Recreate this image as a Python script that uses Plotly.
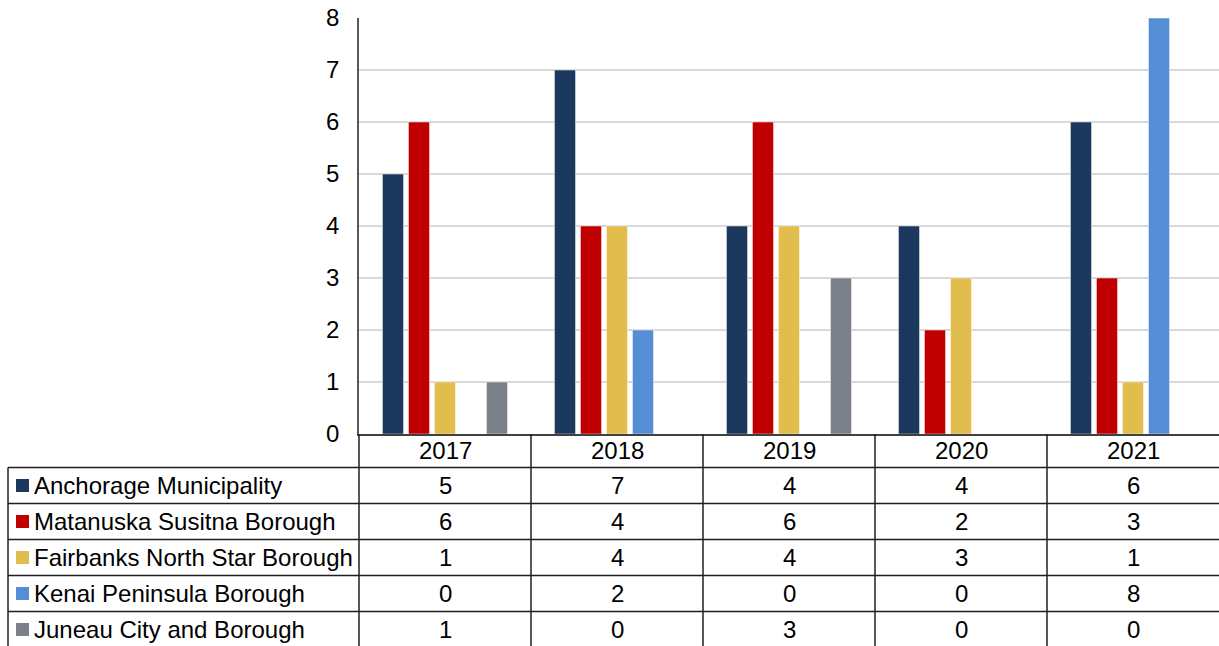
import plotly.graph_objects as go

# --- data -------------------------------------------------------------
years = ["2017", "2018", "2019", "2020", "2021"]
series_names = [
    "Anchorage Municipality",
    "Matanuska Susitna Borough",
    "Fairbanks North Star Borough",
    "Kenai Peninsula Borough",
    "Juneau City and Borough",
]
anchorage = [5, 7, 4, 4, 6]
matanuska = [6, 4, 6, 2, 3]
fairbanks = [1, 4, 4, 3, 1]
kenai = [0, 2, 0, 0, 8]
juneau = [1, 0, 3, 0, 0]
y_ticks = [0, 1, 2, 3, 4, 5, 6, 7, 8]

series_values = [anchorage, matanuska, fairbanks, kenai, juneau]
colors = ["#1B385E", "#C00000", "#E0BD4C", "#558ED5", "#7B8189"]

# --- geometry helpers (pixel -> paper) ---------------------------------
W, H = 1219, 646
FONT = "Liberation Sans, Arial, sans-serif"
FS = 24


def px_x(p):
    return p / W


def px_y(p):
    return (H - p) / H


plot_left, plot_top, plot_bottom = 359, 18, 434
header_bottom = 467.5
row_h = 36
row_lines = [header_bottom + i * row_h for i in range(len(series_names))]
table_left = 8

fig = go.Figure()
for name, vals, col in zip(series_names, series_values, colors):
    fig.add_trace(go.Bar(
        x=years, y=vals, name=name,
        marker=dict(color=col, line=dict(width=0.8, color="rgba(255,255,255,0.6)")),
        showlegend=False,
    ))

shapes = []
line_dark = dict(color="#1f1f1f", width=1.5)

# horizontal table rules
for yl in row_lines:
    shapes.append(dict(type="line", xref="paper", yref="paper",
                       x0=px_x(table_left), x1=1, y0=px_y(yl), y1=px_y(yl), line=line_dark))
# left border of the series-name column
shapes.append(dict(type="line", xref="paper", yref="paper",
                   x0=px_x(table_left), x1=px_x(table_left),
                   y0=px_y(header_bottom), y1=0, line=line_dark))
# continuation of the value axis down through the table
shapes.append(dict(type="line", xref="paper", yref="paper",
                   x0=px_x(plot_left), x1=px_x(plot_left),
                   y0=px_y(plot_bottom), y1=0, line=line_dark))
# separators between year columns
for i in range(len(years) - 1):
    shapes.append(dict(type="line", xref="x", yref="paper",
                       x0=i + 0.5, x1=i + 0.5, y0=px_y(plot_bottom), y1=0, line=line_dark))

annotations = []
# year header row
for i, yr in enumerate(years):
    annotations.append(dict(x=i, xref="x", y=px_y((plot_bottom + header_bottom) / 2), yref="paper",
                            text=yr, showarrow=False, xanchor="center", yanchor="middle",
                            font=dict(family=FONT, size=FS, color="#000")))
# series rows: legend key, name and values
for r, (name, vals, col) in enumerate(zip(series_names, series_values, colors)):
    cy = header_bottom + r * row_h + row_h / 2
    shapes.append(dict(type="rect", xref="paper", yref="paper",
                       x0=px_x(16), x1=px_x(29), y0=px_y(cy - 6.5), y1=px_y(cy + 6.5),
                       fillcolor=col, line=dict(width=0)))
    annotations.append(dict(x=px_x(32), xref="paper", y=px_y(cy), yref="paper",
                            text=name, showarrow=False, xanchor="left", yanchor="middle",
                            font=dict(family=FONT, size=FS, color="#000")))
    for i, v in enumerate(vals):
        annotations.append(dict(x=i, xref="x", y=px_y(cy), yref="paper",
                                text=str(v), showarrow=False, xanchor="center", yanchor="middle",
                                font=dict(family=FONT, size=FS, color="#000")))

fig.update_layout(
    width=W, height=H,
    margin=dict(l=0, r=0, t=0, b=0, autoexpand=False),
    paper_bgcolor="white", plot_bgcolor="white",
    barmode="group", bargap=0.244, bargroupgap=0.19,
    font=dict(family=FONT, size=FS, color="#000"),
    xaxis=dict(type="category", domain=[px_x(plot_left), 1], range=[-0.5, len(years) - 0.5],
               showticklabels=False, ticks="", showgrid=False, automargin=False,
               showline=True, linecolor="#404040", linewidth=1.5, zeroline=False),
    yaxis=dict(domain=[px_y(plot_bottom), px_y(plot_top)], range=[0, 8], automargin=False,
               tickvals=y_ticks, ticktext=[str(t) for t in y_ticks],
               showgrid=True, gridcolor="#D9D9D9", gridwidth=1.5,
               showline=True, linecolor="#595959", linewidth=1.5,
               zeroline=False, ticks="", ticklabelstandoff=13,
               tickfont=dict(family=FONT, size=FS, color="#000")),
    shapes=shapes,
    annotations=annotations,
)

fig.write_html("out.html")
